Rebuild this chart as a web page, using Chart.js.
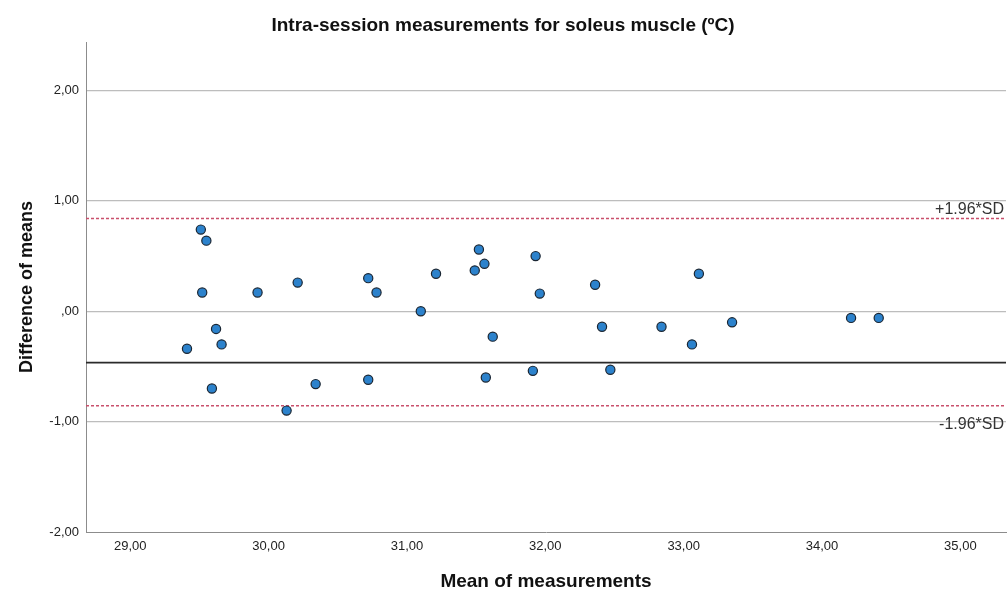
<!DOCTYPE html>
<html>
<head>
<meta charset="utf-8">
<script src="https://cdn.jsdelivr.net/npm/chart.js@4/dist/chart.umd.min.js"></script>
<style>
  html, body { margin: 0; padding: 0; background: #fff; }
  #wrap { width: 1008px; height: 590px; }
</style>
</head>
<body>
<div id="wrap"><canvas id="chart-bland" width="1008" height="590"></canvas></div>
<script>
// ==================== DATOS ====================

const meanValues = [
    29.41, 29.51, 29.55, 29.52, 29.62, 29.66, 29.59, 29.92, 30.13, 30.21, 30.34,
    30.72, 30.72, 30.78, 31.10, 31.21, 31.52, 31.56, 31.49, 31.62, 31.57, 31.93,
    31.96, 31.91, 32.36, 32.41, 32.47, 32.84, 33.06, 33.11, 33.35, 34.21, 34.41
];
const diffValues = [
    -0.34, 0.74, 0.64, 0.17, -0.16, -0.30, -0.70, 0.17, -0.90, 0.26, -0.66,
    0.30, -0.62, 0.17, 0.00, 0.34, 0.56, 0.43, 0.37, -0.23, -0.60, 0.50,
    0.16, -0.54, 0.24, -0.14, -0.53, -0.14, -0.30, 0.34, -0.10, -0.06, -0.06
];

const meanDiff = -0.465;
const upperLimit = 0.84;
const lowerLimit = -0.857;
const limitLabels = ['+1.96*SD', '-1.96*SD'];

const xTickValues = [29, 30, 31, 32, 33, 34, 35];
const xTickLabels = ['29,00', '30,00', '31,00', '32,00', '33,00', '34,00', '35,00'];
const yTickValues = [-2, -1, 0, 1, 2];
const yTickLabels = ['-2,00', '-1,00', ',00', '1,00', '2,00'];

const X_MIN = 28.68, X_MAX = 35.33;
const Y_MIN = -2, Y_MAX = 2.44;

const FONT = 'Liberation Sans, Arial, sans-serif';

// ── Etiquetas de los límites (+/-1.96*SD) ───────────────────

const limitLabelPlugin = {
    id: 'limitLabels',
    afterDatasetsDraw(chart) {
        const { ctx, chartArea, scales } = chart;
        ctx.save();
        ctx.font = `16px ${FONT}`;
        ctx.fillStyle = '#333';
        ctx.textAlign = 'right';
        ctx.textBaseline = 'alphabetic';
        ctx.fillText(limitLabels[0], chartArea.right - 2, scales.y.getPixelForValue(upperLimit) - 5);
        ctx.fillText(limitLabels[1], chartArea.right - 2, scales.y.getPixelForValue(lowerLimit) + 23);
        ctx.restore();
    }
};

function hLine(value) {
    return [{ x: X_MIN, y: value }, { x: X_MAX, y: value }];
}

new Chart(document.getElementById('chart-bland'), {
    type: 'scatter',
    data: {
        datasets: [
            {
                label: 'Diferencias',
                data: meanValues.map((m, i) => ({ x: m, y: diffValues[i] })),
                backgroundColor: '#2c82cc',
                borderColor: '#1a2633',
                borderWidth: 1.2,
                pointRadius: 4.6,
                order: 0,
            },
            {
                type: 'line',
                label: 'Media',
                data: hLine(meanDiff),
                borderColor: '#2b2b2b',
                borderWidth: 1.6,
                pointRadius: 0,
                order: 1,
            },
            {
                type: 'line',
                label: '+1.96*SD',
                data: hLine(upperLimit),
                borderColor: '#c9506c',
                borderWidth: 1.5,
                borderDash: [3, 2],
                pointRadius: 0,
                order: 1,
            },
            {
                type: 'line',
                label: '-1.96*SD',
                data: hLine(lowerLimit),
                borderColor: '#c9506c',
                borderWidth: 1.5,
                borderDash: [3, 2],
                pointRadius: 0,
                order: 1,
            }
        ]
    },
    options: {
        responsive: false,
        animation: false,
        devicePixelRatio: 1,
        layout: { autoPadding: false, padding: { top: 0, left: 0, right: 2, bottom: 0 } },
        plugins: {
            legend: { display: false },
            tooltip: { enabled: false },
            title: {
                display: true,
                text: 'Intra-session measurements for soleus muscle (ºC)',
                color: '#111',
                font: { family: FONT, size: 19, weight: 'bold', lineHeight: 1.2 },
                padding: { top: 14, bottom: 5.2 }
            }
        },
        scales: {
            x: {
                type: 'linear',
                min: X_MIN,
                max: X_MAX,
                afterBuildTicks: s => { s.ticks = xTickValues.map(v => ({ value: v })); },
                afterFit: s => { s.height = 58; },
                grid: { display: false, drawTicks: false },
                border: { display: true, color: '#8c8c8c', width: 1 },
                ticks: {
                    padding: 7,
                    color: '#222',
                    font: { family: FONT, size: 13 },
                    callback: v => xTickLabels[xTickValues.indexOf(v)]
                },
                title: {
                    display: true,
                    text: 'Mean of measurements',
                    color: '#111',
                    font: { family: FONT, size: 19, weight: 'bold', lineHeight: 1 },
                    padding: { top: 0, bottom: -1 }
                }
            },
            y: {
                type: 'linear',
                min: Y_MIN,
                max: Y_MAX,
                afterBuildTicks: s => { s.ticks = yTickValues.map(v => ({ value: v })); },
                afterFit: s => { s.width = 86; },
                grid: {
                    drawTicks: false,
                    lineWidth: 1.2,
                    color: c => (c.tick && c.tick.value === Y_MIN) ? 'rgba(0,0,0,0)' : '#bdbdbd'
                },
                border: { display: true, color: '#8c8c8c', width: 1 },
                ticks: {
                    padding: 7,
                    color: '#222',
                    font: { family: FONT, size: 13 },
                    callback: v => yTickLabels[yTickValues.indexOf(v)]
                },
                title: {
                    display: true,
                    text: 'Difference of means',
                    color: '#111',
                    font: { family: FONT, size: 18, weight: 'bold', lineHeight: 1.2 },
                    padding: { top: 16, bottom: 0 }
                }
            }
        }
    },
    plugins: [limitLabelPlugin]
});
</script>
</body>
</html>
